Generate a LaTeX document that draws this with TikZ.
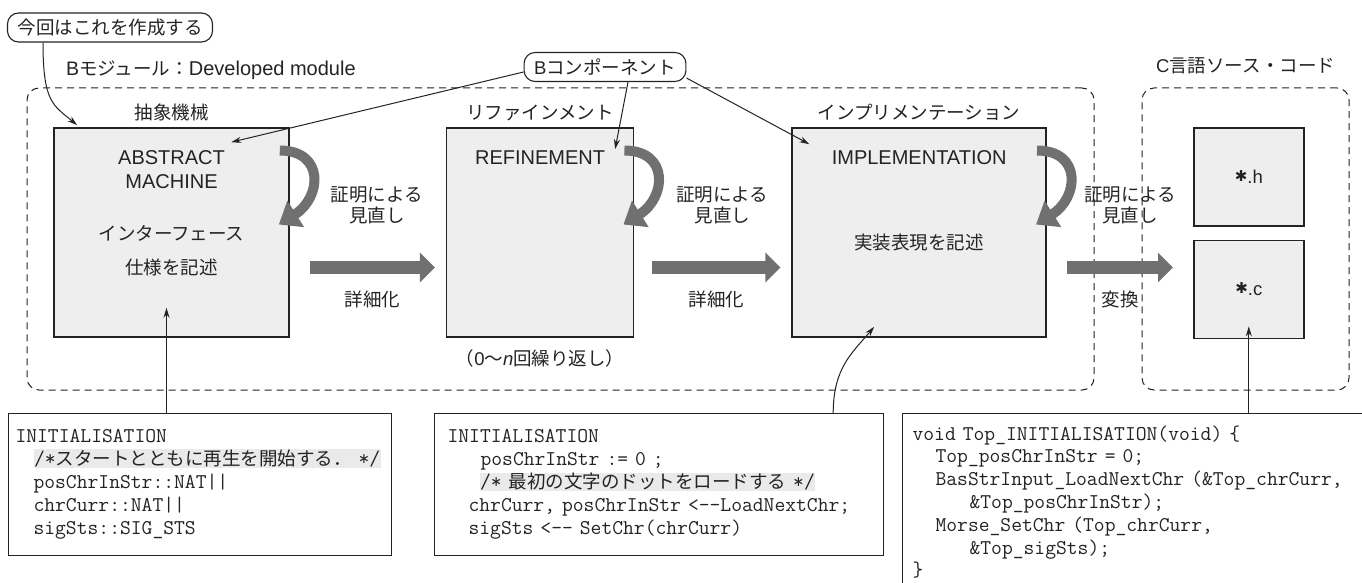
\documentclass[tikz,border=0pt]{standalone}
\usepackage{fontspec}
\setmainfont{Noto Sans CJK JP}
\newfontfamily\latfont{Liberation Sans}
\newfontfamily\symfont{DejaVu Sans}
\usetikzlibrary{arrows.meta, positioning, calc}
\definecolor{cBox}{RGB}{238,238,238}
\definecolor{cArrow}{RGB}{112,112,112}
\definecolor{cHl}{RGB}{234,234,234}
\definecolor{cInk}{RGB}{35,35,35}
\newcommand\cind[1]{\hspace*{#1pt}}
\newcommand\jcmt[1]{{\rmfamily\fontsize{18.5}{23.2}\selectfont #1}}
\newcommand\hlc[1]{{\setlength\fboxsep{0.5pt}\colorbox{cHl}{#1}}}
\newcommand\hstar{{\symfont\fontsize{15}{18}\selectfont\raisebox{2pt}{✱}}}
\tikzset{
	stagebox/.style={rectangle, draw=cInk, line width=1.6pt, fill=cBox, minimum height=209pt},
	cfile/.style={rectangle, draw=cInk, line width=1.6pt, fill=cBox, minimum width=110pt, minimum height=98pt},
	grpbox/.style={rectangle, draw=cInk, dash pattern=on 7pt off 5pt, rounded corners=12pt, line width=1pt},
	tagbox/.style={rectangle, draw=cInk, rounded corners=11pt, line width=1.1pt, inner xsep=10pt, minimum height=29pt},
	lbl/.style={inner sep=0pt, text=cInk, align=center},
	latin/.style={font=\latfont\fontsize{20}{24}\selectfont},
	codebox/.style={rectangle, draw=cInk, line width=1.1pt, align=left, anchor=north west, inner ysep=15.5pt, font=\ttfamily\fontsize{21}{23.2}\selectfont},
	ptr/.style={-{Stealth[length=10pt,width=6pt]}, line width=1pt, draw=cInk},
	fatarrow/.style={line width=13pt, draw=cArrow, -{Triangle[length=15pt,width=29pt]}},
	proofarrow/.style={line width=10pt, draw=cArrow, -{Triangle[length=20pt,width=30pt]}},
}

\begin{document}
\begin{tikzpicture}[x=1pt, y=-1pt, font=\fontsize{18.5}{21}\selectfont, text=cInk]
	\useasboundingbox (0,0) rectangle (1362,583);
	\clip (0,0) rectangle (1362,583);
	% module frames
	\node[grpbox, minimum width=1067pt, minimum height=302pt] (bmod) at (560.5,239) {};
	\node[grpbox, minimum width=207pt, minimum height=302pt] (cmod) at (1245.5,239) {};
	\node[lbl, anchor=west] (bmodl) at (66,70) {{\latfont\fontsize{19.5}{22}\selectfont B}モジュール：{\latfont\fontsize{20}{22}\selectfont Developed module}};
	\node[lbl, above=13pt of cmod.north] (cmodl) {{\latfont C}言語ソース・コード};
	% stages
	\node[stagebox, minimum width=235pt] (am) at (171.5,232.5) {};
	\node[stagebox, minimum width=187pt, right=156pt of am] (rf) {};
	\node[stagebox, minimum width=254pt, right=157pt of rf] (im) {};
	\node[cfile, right=146pt of im.north east, anchor=north west] (hc) {\hstar{\latfont .h}};
	\node[cfile, below=13pt of hc] (cc) {\hstar{\latfont .c}};
	\node[lbl, above=6pt of am] (aml) {抽象機械};
	\node[lbl, above=6pt of rf] (rfl) {リファインメント};
	\node[lbl, above=6pt of im] (iml) {インプリメンテーション};
	\node[lbl, latin, below=23pt of am.north] (amt) {ABSTRACT\\MACHINE};
	\node[lbl, below=98pt of am.north] (amd) {インターフェース\\[13pt]仕様を記述};
	\node[lbl, latin, below=23pt of rf.north] (rft) {REFINEMENT};
	\node[lbl, latin, below=23pt of im.north] (imt) {IMPLEMENTATION};
	\node[lbl, below=107pt of im.north] (imd) {実装表現を記述};
	\node[lbl, below=12pt of rf] (rep) {（{\latfont 0}〜{\latfont\itshape n}回繰り返し）};
	% proof loops
	\foreach \s/\dx in {am/87, rf/88, im/83} {
		\draw[proofarrow] ([shift={(-10,-82)}]\s.east) .. controls +(45,0) and +(43,-27) .. ([shift={(-11,-8)}]\s.east);
		\node[lbl] (pv\s) at ([shift={(\dx,-27.5)}]\s.east) {証明による\\見直し};
	}
	% refinement / translation
	\coordinate (cin) at (cc.west |- im.east);
	\draw[fatarrow] ([shift={(20,35)}]am.east) -- node[lbl, below=17pt] (rf1) {詳細化} ([shift={(-11,35)}]rf.west);
	\draw[fatarrow] ([shift={(18,35)}]rf.east) -- node[lbl, below=17pt] (rf2) {詳細化} ([shift={(-11,35)}]im.west);
	\draw[fatarrow] ([shift={(20,35)}]im.east) -- node[lbl, below=17pt] (cv) {変換} ([shift={(-20,35)}]cin);
	% callouts
	\node[tagbox] (cur) at (110,27.5) {今回はこれを作成する};
	\node[tagbox] (bc) at (605,67) {{\latfont B}コンポーネント};
	\draw[ptr] ([xshift=-67pt]cur.south) .. controls +(0,60) and +(-24,-20) .. ([shift={(24,-2)}]am.north west);
	\draw[ptr] ([yshift=-5pt]bc.west) -- ([shift={(178,15)}]am.north west);
	\draw[ptr] ([xshift=23pt]bc.south) -- ([shift={(75,22)}]rf.north);
	\draw[ptr] ([yshift=-11pt]bc.east) -- ([shift={(18,17)}]im.north west);
	% code listings
	\node[codebox, inner xsep=7pt, text width=369pt, minimum height=140pt] (cb1) at (8,413) {INITIALISATION\\
		\cind{18}\hlc{/*\jcmt{スタートとともに再生を開始する．}\ */}\\
		\cind{18}posChrInStr::NAT||\\
		\cind{18}chrCurr::NAT||\\
		\cind{18}sigSts::SIG\_STS};
	\node[codebox, inner xsep=13pt, text width=423pt, minimum height=140pt] (cb2) at (434,413) {INITIALISATION\\
		\cind{33}posChrInStr := 0 ;\\
		\cind{32}\hlc{/* \jcmt{最初の文字のドットをロードする} */}\\
		\cind{21}chrCurr, posChrInStr <-\kern0pt-LoadNextChr;\\
		\cind{21}sigSts <-\kern0pt- SetChr(chrCurr)};
	\node[codebox, inner xsep=10pt, inner ysep=12pt, text width=470pt, font=\ttfamily\fontsize{21}{22.8}\selectfont] (cb3) at (902,413) {void Top\_INITIALISATION(void) \{\\
		\cind{23}Top\_posChrInStr = 0;\\
		\cind{23}BasStrInput\_LoadNextChr (\&Top\_chrCurr,\\
		\cind{57}\&Top\_posChrInStr);\\
		\cind{23}Morse\_SetChr (Top\_chrCurr,\\
		\cind{57}\&Top\_sigSts);\\
		\}};
	\draw[ptr] ($(am.south |- cb1.north)+(-5,0)$) -- ($(am.south)+(-5,-30)$);
	\draw[ptr] ($(im.south |- cb2.north)+(-86,0)$) .. controls +(0,-45) and +(-22,26) .. ($(im.south)+(-45,-11)$);
	\draw[ptr] (cc.south |- cb3.north) -- ($(cc.south)+(0,-13)$);
\end{tikzpicture}
\end{document}
